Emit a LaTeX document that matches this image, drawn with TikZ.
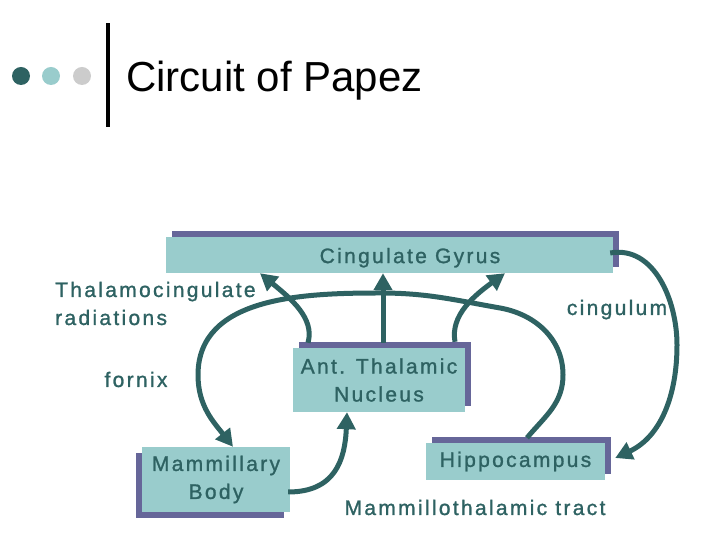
\documentclass[tikz,border=0pt]{standalone}
\usepackage{fontspec}
\setmainfont{Liberation Sans}
\newfontfamily\lblfont[LetterSpace=11,FakeBold=1.2]{Liberation Sans}
\usetikzlibrary{
  arrows.meta,
  shadows
}
\definecolor{papezteal}{RGB}{46,98,98}
\definecolor{boxteal}{RGB}{153,204,204}
\definecolor{shadowpurple}{RGB}{102,102,153}
\definecolor{dotgray}{RGB}{204,204,204}
\tikzset{
  labeltext/.style={
    text=papezteal,
    font={\lblfont\fontsize{21}{28}\selectfont},
    inner sep=0pt
  },
  papezbox/.style={
    labeltext,
    fill=boxteal,
    align=center
  },
  shadowup/.style={general shadow={fill=shadowpurple,shadow xshift=6pt,shadow yshift=6pt}},
  shadowdown/.style={general shadow={fill=shadowpurple,shadow xshift=-6pt,shadow yshift=-6pt}},
  tractarrow/.style={-{Triangle[length=17pt,width=18pt]},line width=5pt,draw=papezteal}
}

\begin{document}
\begin{tikzpicture}[x=1pt,y=1pt]
  \useasboundingbox (0,0) rectangle (720,540);

  % slide header
  \fill[papezteal] (21,464) circle (9);
  \fill[boxteal] (51,464) circle (9);
  \fill[dotgray] (82,464) circle (9);
  \draw[line width=4pt] (108,413) -- (108,517);
  \node[anchor=base west,inner sep=0pt,font=\fontsize{42}{50}\selectfont] (title) at (126,448) {Circuit of Papez};

  % structures
  \node[papezbox,shadowup,minimum width=447pt,minimum height=36pt,
    label={[labeltext,xshift=20.5pt,yshift=-2.7pt]center:Cingulate Gyrus}] (cingulate) at (389.5,285) {};
  \node[papezbox,shadowup,minimum width=172pt,minimum height=64pt] (thalamic) at (379,160) {Ant. Thalamic\\Nucleus};
  \node[papezbox,shadowdown,minimum width=148pt,minimum height=65pt] (mammillary) at (216,60.5) {Mammillary\\Body};
  \node[papezbox,shadowup,minimum width=179pt,minimum height=37pt] (hippo) at (515.5,78.5) {Hippocampus};

  % tract names
  \node[labeltext,anchor=base west,align=left] (radiations) at (55,215) {Thalamocingulate\\radiations};
  \node[labeltext,anchor=base] (cingulum) at (617,225) {cingulum};
  \node[labeltext,anchor=base] (fornix) at (136,153) {fornix};
  \node[labeltext,anchor=base] (mtt) at (475,25) {Mammillothalamic tract};

  % circuit
  \draw[tractarrow] ([xshift=-71pt,yshift=5pt]thalamic.north) .. controls (315,222) and (290,242) .. ([xshift=-129.5pt]cingulate.south);
  \draw[tractarrow] ([xshift=4pt,yshift=5pt]thalamic.north) -- ([xshift=-6.5pt]cingulate.south);
  \draw[tractarrow] ([xshift=76pt,yshift=6pt]thalamic.north) .. controls (450,225) and (475,245) .. ([xshift=115.5pt]cingulate.south);
  \draw[tractarrow] ([xshift=11.5pt,yshift=5pt]hippo.north) to[out=50,in=-90] (563,165) to[out=90,in=-10] (500,232)
    to[out=170,in=0] (380,247) to[out=180,in=90] (198,165) to[out=-90,in=128] ([xshift=17pt]mammillary.north);
  \draw[tractarrow] ([xshift=-3pt,yshift=2pt]cingulate.east) to[out=10,in=90] (677,195) to[out=-90,in=25] ([xshift=10pt,yshift=3.5pt]hippo.east);
  \draw[tractarrow] ([xshift=-2pt,yshift=-12.5pt]mammillary.east) .. controls (335,48) and (345,80) .. ([xshift=-32pt]thalamic.south);
\end{tikzpicture}
\end{document}
